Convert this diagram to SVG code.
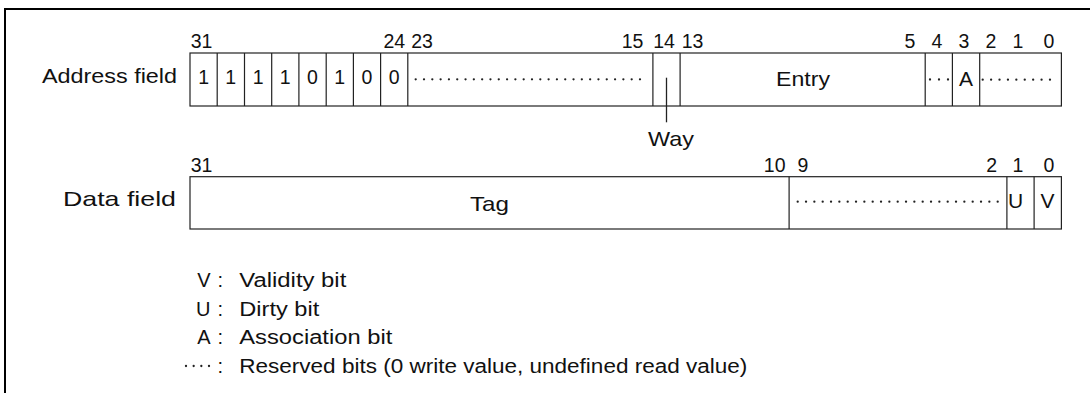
<svg xmlns="http://www.w3.org/2000/svg" width="1090" height="393" viewBox="0 0 1090 393">
<style>
text{font-family:"Liberation Sans",Arial,sans-serif;fill:#111}
.num{font-size:19.5px;text-anchor:middle}
.lbl{font-size:21px}
.mid{text-anchor:middle}
.end{text-anchor:end}
.leg{font-size:20px}
.box{fill:#fff;stroke:#222;stroke-width:1.2}
.div{stroke:#222;stroke-width:1.2}
.dots{stroke:#222;stroke-width:2.3;stroke-linecap:round;fill:none}
</style>
<rect width="1090" height="393" fill="#fff"/>
<g id="frame"><path d="M5,393 V9 H1090" fill="none" stroke="#000" stroke-width="2"/></g>

<g id="address-field">
<text class="lbl" x="42" y="83" textLength="135" lengthAdjust="spacingAndGlyphs">Address field</text>
<text class="num" x="201.5" y="47.7">31</text>
<text class="num" x="394.3" y="47.7">24</text>
<text class="num" x="422" y="47.7">23</text>
<text class="num" x="632.5" y="47.7">15</text>
<text class="num" x="664" y="47.7">14</text>
<text class="num" x="692.5" y="47.7">13</text>
<text class="num" x="910" y="47.7">5</text>
<text class="num" x="937" y="47.7">4</text>
<text class="num" x="964" y="47.7">3</text>
<text class="num" x="991" y="47.7">2</text>
<text class="num" x="1018" y="47.7">1</text>
<text class="num" x="1049" y="47.7">0</text>
<rect class="box" x="190" y="53" width="871.4" height="53"/>
<path class="div" d="M217.2,53V106M244.5,53V106M271.7,53V106M298.9,53V106M326.2,53V106M353.4,53V106M380.6,53V106M407.8,53V106M652.9,53V106M680.1,53V106M925.2,53V106M952.4,53V106M979.7,53V106"/>
<text class="num" x="203.6" y="83.5">1</text>
<text class="num" x="230.8" y="83.5">1</text>
<text class="num" x="258.1" y="83.5">1</text>
<text class="num" x="285.3" y="83.5">1</text>
<text class="num" x="312.5" y="83.5">0</text>
<text class="num" x="339.8" y="83.5">1</text>
<text class="num" x="367" y="83.5">0</text>
<text class="num" x="394.2" y="83.5">0</text>
<line class="dots" x1="415.7" y1="79.3" x2="640.5" y2="79.3" stroke-dasharray="0 8.307"/>
<text class="lbl mid" x="803" y="85.5" textLength="54" lengthAdjust="spacingAndGlyphs">Entry</text>
<line class="dots" x1="930" y1="79.5" x2="948.6" y2="79.5" stroke-dasharray="0 9"/>
<text class="lbl mid" x="965.9" y="86">A</text>
<line class="dots" x1="982.7" y1="79.7" x2="1050.5" y2="79.7" stroke-dasharray="0 8.41"/>
</g>

<g id="data-field">
<text class="lbl" x="63" y="206" textLength="113" lengthAdjust="spacingAndGlyphs">Data field</text>
<text class="num" x="201.5" y="171.7">31</text>
<text class="num" x="774.7" y="171.7">10</text>
<text class="num" x="803" y="171.7">9</text>
<text class="num" x="991.8" y="171.7">2</text>
<text class="num" x="1018" y="171.7">1</text>
<text class="num" x="1049" y="171.7">0</text>
<rect class="box" x="190" y="176.7" width="871.4" height="52.3"/>
<path class="div" d="M789.1,176.7V229M1006.9,176.7V229M1034.1,176.7V229"/>
<text class="lbl mid" x="489.5" y="210.7" textLength="39" lengthAdjust="spacingAndGlyphs">Tag</text>
<line class="dots" x1="797.7" y1="201.7" x2="998.2" y2="201.7" stroke-dasharray="0 8.333"/>
<text class="lbl mid" x="1015.5" y="208">U</text>
<text class="lbl mid" x="1047.5" y="208">V</text>
</g>

<g id="connectors">
<line x1="666.5" y1="77.7" x2="666.5" y2="122.3" stroke="#222" stroke-width="1.3"/>
</g>
<g id="way-label">
<text class="lbl mid" x="671" y="145.7" textLength="46" lengthAdjust="spacingAndGlyphs">Way</text>
</g>

<g id="legend">
<text class="leg end" x="210.5" y="286.7">V</text>
<text class="leg" x="217.5" y="286.7">:</text>
<text class="leg" x="239.3" y="286.7" textLength="107" lengthAdjust="spacingAndGlyphs">Validity bit</text>
<text class="leg end" x="210.5" y="315.5">U</text>
<text class="leg" x="217.5" y="315.5">:</text>
<text class="leg" x="239.3" y="315.5" textLength="80" lengthAdjust="spacingAndGlyphs">Dirty bit</text>
<text class="leg end" x="210.5" y="344.3">A</text>
<text class="leg" x="217.5" y="344.3">:</text>
<text class="leg" x="239.3" y="344.3" textLength="153" lengthAdjust="spacingAndGlyphs">Association bit</text>
<line class="dots" x1="186" y1="366" x2="209.5" y2="366" stroke-dasharray="0 7.667" stroke-width="2"/>
<text class="leg" x="217.5" y="373">:</text>
<text class="leg" x="239.3" y="373" textLength="508" lengthAdjust="spacingAndGlyphs">Reserved bits (0 write value, undefined read value)</text>
</g>
</svg>
